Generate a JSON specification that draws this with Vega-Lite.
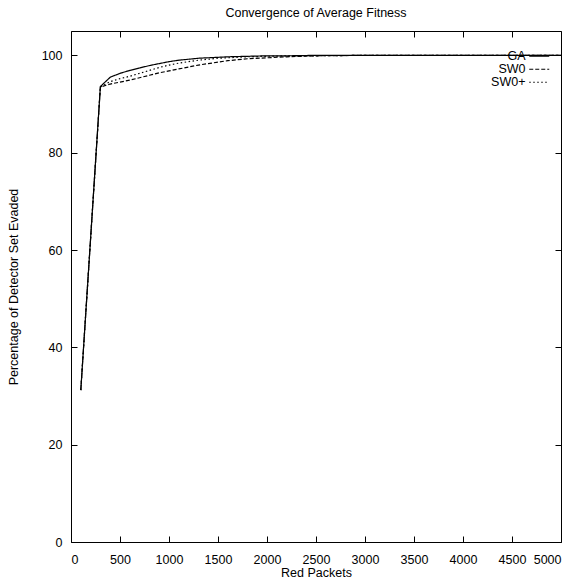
{
  "$schema": "https://vega.github.io/schema/vega-lite/v6.json",
  "autosize": {"type": "none"},
  "padding": {"left": 71, "top": 31, "right": 14, "bottom": 38},
  "width": 490,
  "height": 511,
  "background": "white",
  "title": {"text": "Convergence of Average Fitness", "fontSize": 12.5, "fontWeight": "normal", "font": "Liberation Sans, sans-serif", "color": "black", "offset": 11, "anchor": "middle"},
  "config": {
    "view": {"stroke": "black", "strokeWidth": 1},
    "font": "Liberation Sans, sans-serif",
    "axis": {"domain": false, "grid": false, "tickColor": "black", "tickSize": -6, "tickWidth": 1, "labelColor": "black", "labelFontSize": 12.5, "labelFont": "Liberation Sans, sans-serif", "titleFont": "Liberation Sans, sans-serif", "titleFontSize": 12.5, "titleFontWeight": "normal", "titleColor": "black"},
    "legend": {"labelFont": "Liberation Sans, sans-serif", "labelFontSize": 12.5, "labelColor": "black"}
  },
  "data": {"values": [
    {"x": 100, "y": 31.2, "s": "GA"}, {"x": 300, "y": 93.6, "s": "GA"}, {"x": 400, "y": 95.5, "s": "GA"}, {"x": 500, "y": 96.3, "s": "GA"}, {"x": 600, "y": 96.9, "s": "GA"}, {"x": 700, "y": 97.4, "s": "GA"}, {"x": 800, "y": 97.9, "s": "GA"}, {"x": 900, "y": 98.3, "s": "GA"}, {"x": 1000, "y": 98.7, "s": "GA"}, {"x": 1100, "y": 99.0, "s": "GA"}, {"x": 1200, "y": 99.2, "s": "GA"}, {"x": 1300, "y": 99.4, "s": "GA"}, {"x": 1400, "y": 99.5, "s": "GA"}, {"x": 1500, "y": 99.6, "s": "GA"}, {"x": 1600, "y": 99.7, "s": "GA"}, {"x": 1800, "y": 99.8, "s": "GA"}, {"x": 2000, "y": 99.9, "s": "GA"}, {"x": 2200, "y": 99.9, "s": "GA"}, {"x": 2500, "y": 100, "s": "GA"}, {"x": 3000, "y": 100, "s": "GA"}, {"x": 3500, "y": 100, "s": "GA"}, {"x": 4000, "y": 100, "s": "GA"}, {"x": 4500, "y": 100, "s": "GA"}, {"x": 5000, "y": 100, "s": "GA"},
    {"x": 100, "y": 31.2, "s": "SW0"}, {"x": 300, "y": 93.5, "s": "SW0"}, {"x": 400, "y": 94.1, "s": "SW0"}, {"x": 500, "y": 94.5, "s": "SW0"}, {"x": 600, "y": 94.9, "s": "SW0"}, {"x": 700, "y": 95.4, "s": "SW0"}, {"x": 800, "y": 95.9, "s": "SW0"}, {"x": 900, "y": 96.4, "s": "SW0"}, {"x": 1000, "y": 96.8, "s": "SW0"}, {"x": 1100, "y": 97.2, "s": "SW0"}, {"x": 1200, "y": 97.6, "s": "SW0"}, {"x": 1300, "y": 98.0, "s": "SW0"}, {"x": 1400, "y": 98.3, "s": "SW0"}, {"x": 1500, "y": 98.6, "s": "SW0"}, {"x": 1600, "y": 98.9, "s": "SW0"}, {"x": 1800, "y": 99.3, "s": "SW0"}, {"x": 2000, "y": 99.5, "s": "SW0"}, {"x": 2200, "y": 99.7, "s": "SW0"}, {"x": 2500, "y": 99.9, "s": "SW0"}, {"x": 3000, "y": 100, "s": "SW0"}, {"x": 3500, "y": 100, "s": "SW0"}, {"x": 4000, "y": 100, "s": "SW0"}, {"x": 4500, "y": 100, "s": "SW0"}, {"x": 5000, "y": 100, "s": "SW0"},
    {"x": 100, "y": 31.2, "s": "SW0+"}, {"x": 300, "y": 93.5, "s": "SW0+"}, {"x": 400, "y": 94.6, "s": "SW0+"}, {"x": 500, "y": 95.2, "s": "SW0+"}, {"x": 600, "y": 95.7, "s": "SW0+"}, {"x": 700, "y": 96.3, "s": "SW0+"}, {"x": 800, "y": 96.9, "s": "SW0+"}, {"x": 900, "y": 97.5, "s": "SW0+"}, {"x": 1000, "y": 98.0, "s": "SW0+"}, {"x": 1100, "y": 98.4, "s": "SW0+"}, {"x": 1200, "y": 98.7, "s": "SW0+"}, {"x": 1300, "y": 99.0, "s": "SW0+"}, {"x": 1400, "y": 99.2, "s": "SW0+"}, {"x": 1500, "y": 99.4, "s": "SW0+"}, {"x": 1600, "y": 99.5, "s": "SW0+"}, {"x": 1800, "y": 99.7, "s": "SW0+"}, {"x": 2000, "y": 99.8, "s": "SW0+"}, {"x": 2200, "y": 99.9, "s": "SW0+"}, {"x": 2500, "y": 99.9, "s": "SW0+"}, {"x": 3000, "y": 100, "s": "SW0+"}, {"x": 3500, "y": 100, "s": "SW0+"}, {"x": 4000, "y": 100, "s": "SW0+"}, {"x": 4500, "y": 100, "s": "SW0+"}, {"x": 5000, "y": 100, "s": "SW0+"}
  ]},
  "resolve": {"axis": {"x": "independent", "y": "independent"}},
  "layer": [
    {
      "mark": {"type": "line", "strokeWidth": 1.2, "color": "black"},
      "encoding": {
        "x": {"field": "x", "type": "quantitative", "scale": {"domain": [0, 5000], "nice": false}, "axis": {"values": [0,500,1000,1500,2000,2500,3000,3500,4000,4500,5000], "format": "d", "title": "Red Packets", "labelPadding": 17, "titlePadding": 1}},
        "y": {"field": "y", "type": "quantitative", "scale": {"domain": [0, 105], "nice": false}, "axis": {"values": [0,20,40,60,80,100], "format": "d", "title": "Percentage of Detector Set Evaded", "labelPadding": 15, "titlePadding": 21}},
        "strokeDash": {"field": "s", "type": "nominal", "scale": {"domain": ["GA", "SW0", "SW0+"], "range": [[1,0],[4,2],[1.5,2.5]]},
          "legend": {"title": null, "orient": "none", "legendX": 462, "legendY": 19, "labelAlign": "right", "labelOffset": -20, "symbolType": "M-2,0H2", "symbolSize": 100, "symbolStrokeColor": "black", "symbolFillColor": "transparent", "symbolStrokeWidth": 1.2, "rowPadding": -0.5, "padding": 0}}
      }
    },
    {
      "mark": {"type": "point", "opacity": 0},
      "encoding": {
        "x": {"field": "x", "type": "quantitative", "axis": {"orient": "top", "values": [0,500,1000,1500,2000,2500,3000,3500,4000,4500,5000], "labels": false, "title": null}},
        "y": {"field": "y", "type": "quantitative", "axis": {"orient": "right", "values": [0,20,40,60,80,100], "labels": false, "title": null}}
      }
    }
  ]
}
